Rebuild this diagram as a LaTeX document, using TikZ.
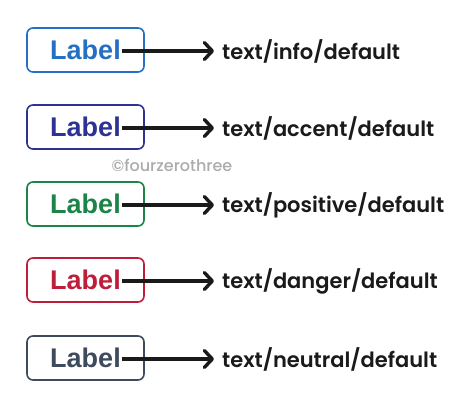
\documentclass[tikz,border=0pt]{standalone}
\usepackage{fontspec}
\setmainfont{Liberation Sans}
\newfontfamily\handfont{Poppins}[UprightFont=* SemiBold]
\newfontfamily\wmfont{Poppins}[UprightFont=* Medium]
\usetikzlibrary{arrows.meta}
\definecolor{cinfo}{HTML}{2370C4}
\definecolor{caccent}{HTML}{2E3294}
\definecolor{cpos}{HTML}{1B8446}
\definecolor{cdanger}{HTML}{BE1E3A}
\definecolor{cneutral}{HTML}{3E4A5E}
\definecolor{cink}{HTML}{1A1A1A}
\tikzset{
  chip/.style={draw=#1, text=#1, line width=1.6pt, rounded corners=6pt,
    minimum width=117pt, minimum height=44pt, inner sep=0pt,
    font=\fontsize{27}{30}\selectfont\bfseries},
  tok/.style={anchor=west, inner sep=0pt, text=cink, font=\handfont\fontsize{21}{24}\selectfont},
  conn/.style={line width=3.4pt, cink, -{Straight Barb[length=8pt,width=17pt,line cap=round,line join=round]}},
}
\begin{document}
\begin{tikzpicture}[x=1pt,y=-1pt]
\useasboundingbox (0,0) rectangle (474,408);
\fill[white] (0,0) rectangle (474,408);
\foreach \n/\y/\c/\t in {1/50/cinfo/info, 2/127/caccent/accent, 3/204/cpos/positive, 4/280/cdanger/danger, 5/358/cneutral/neutral}{
  \node[chip=\c] (b\n) at (85.5,\y) {Label};
  \coordinate (s\n) at (122,\y+1);
  \node[tok] (t\n) at (222,\y+1) {text/\t/default};
  \draw[conn] (s\n) -- ([xshift=-8pt]t\n.west);
}
\node[text=gray!65, font=\wmfont\fontsize{16}{18}\selectfont] (wm) at (172,165) {©fourzerothree};
\end{tikzpicture}
\end{document}
